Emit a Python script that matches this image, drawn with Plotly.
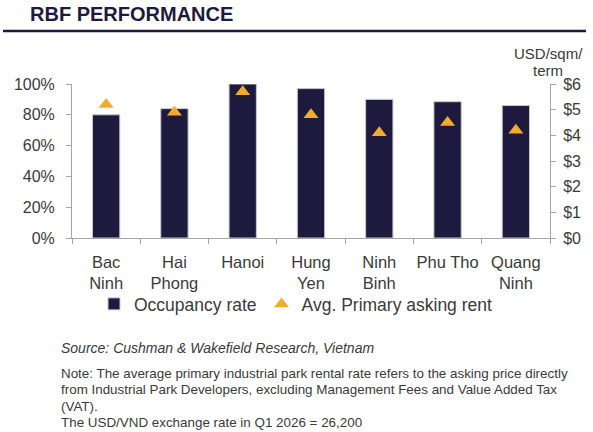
import plotly.graph_objects as go

categories = ["Bac<br>Ninh", "Hai<br>Phong", "Hanoi", "Hung<br>Yen", "Ninh<br>Binh", "Phu Tho", "Quang<br>Ninh"]
occupancy = [0.80, 0.84, 1.00, 0.97, 0.90, 0.885, 0.86]
asking_rent = [5.2, 4.9, 5.7, 4.8, 4.1, 4.5, 4.2]
left_ticks = [0, 0.2, 0.4, 0.6, 0.8, 1.0]
right_ticks = [0, 1, 2, 3, 4, 5, 6]
right_labels = ["$" + str(v) for v in right_ticks]

NAVY = "#1e1a3e"
GOLD = "#f2ac2c"
FONT = "Arial, Liberation Sans, sans-serif"
TXT = "#3a3a3a"

W, H = 593, 432
L, R, T, B = 72, 43, 84, 194
PH = H - T - B
PW = W - L - R

def py(Y):
    return (H - B - Y) / PH

def px(X):
    return (X - L) / PW

fig = go.Figure()
fig.add_trace(go.Bar(
    x=categories, y=occupancy, name="Occupancy rate",
    marker=dict(color=NAVY, line=dict(color="#c8c8d2", width=1)),
    width=0.4, yaxis="y",
))
fig.add_trace(go.Scatter(
    x=categories, y=asking_rent, name="Avg. Primary asking rent",
    mode="markers", marker=dict(symbol="triangle-up", size=13, color=GOLD),
    yaxis="y2",
))

fig.update_layout(
    width=W, height=H,
    margin=dict(l=L, r=R, t=T, b=B),
    paper_bgcolor="white", plot_bgcolor="white",
    font=dict(family=FONT, size=16, color=TXT),
    showlegend=True,
    legend=dict(orientation="h", x=px(94), y=py(286), xanchor="left", yanchor="top",
                font=dict(size=17.5, color=TXT), itemwidth=30, tracegroupgap=0,
                bgcolor="rgba(0,0,0,0)"),
    xaxis=dict(showline=True, linecolor="#a6a6a6", linewidth=1,
               ticks="outside", ticklen=5, tickcolor="#a6a6a6",
               tickson="boundaries", showgrid=False, tickangle=0,
               ticklabelstandoff=9,
               tickfont=dict(size=16.5, color=TXT)),
    yaxis=dict(range=[0, 1], tickvals=left_ticks, tickformat=".0%",
               showline=True, linecolor="#a6a6a6", linewidth=1,
               ticks="outside", ticklen=5, tickcolor="#a6a6a6",
               showgrid=False, zeroline=False, ticklabelstandoff=8,
               tickfont=dict(size=16, color=TXT)),
    yaxis2=dict(range=[0, 6], tickvals=right_ticks, ticktext=right_labels,
                overlaying="y", side="right",
                showline=True, linecolor="#a6a6a6", linewidth=1,
                ticks="outside", ticklen=5, tickcolor="#a6a6a6",
                showgrid=False, zeroline=False, ticklabelstandoff=4,
                tickfont=dict(size=16, color=TXT)),
)

fig.add_annotation(text="<b>RBF PERFORMANCE</b>", xref="paper", yref="paper",
                   x=px(28), y=py(14), xanchor="left", yanchor="middle",
                   showarrow=False, font=dict(size=20, color="#1e1a3e", family=FONT))
fig.add_shape(type="line", xref="paper", yref="paper",
              x0=px(3), x1=px(586), y0=py(31), y1=py(31),
              line=dict(color="#1e1a3e", width=2.5))
fig.add_annotation(text="USD/sqm/", xref="paper", yref="paper",
                   x=px(548), y=py(53), xanchor="center", yanchor="middle",
                   showarrow=False, font=dict(size=15, color=TXT, family=FONT))
fig.add_annotation(text="term", xref="paper", yref="paper",
                   x=px(548), y=py(70), xanchor="center", yanchor="middle",
                   showarrow=False, font=dict(size=15, color=TXT, family=FONT))
fig.add_annotation(text="<i>Source: Cushman &amp; Wakefield Research, Vietnam</i>",
                   xref="paper", yref="paper", x=px(59), y=py(348),
                   xanchor="left", yanchor="middle", showarrow=False,
                   font=dict(size=14, color=TXT, family=FONT))
note_lines = [
    "Note: The average primary industrial park rental rate refers to the asking price directly",
    "from Industrial Park Developers, excluding Management Fees and Value Added Tax",
    "(VAT).",
    "The USD/VND exchange rate in Q1 2026 = 26,200",
]
for i, line in enumerate(note_lines):
    fig.add_annotation(text=line, xref="paper", yref="paper", x=px(59), y=py(373 + 16.5 * i),
                       xanchor="left", yanchor="middle", showarrow=False, align="left",
                       font=dict(size=13.4, color=TXT, family=FONT))

fig.write_html("out.html")
